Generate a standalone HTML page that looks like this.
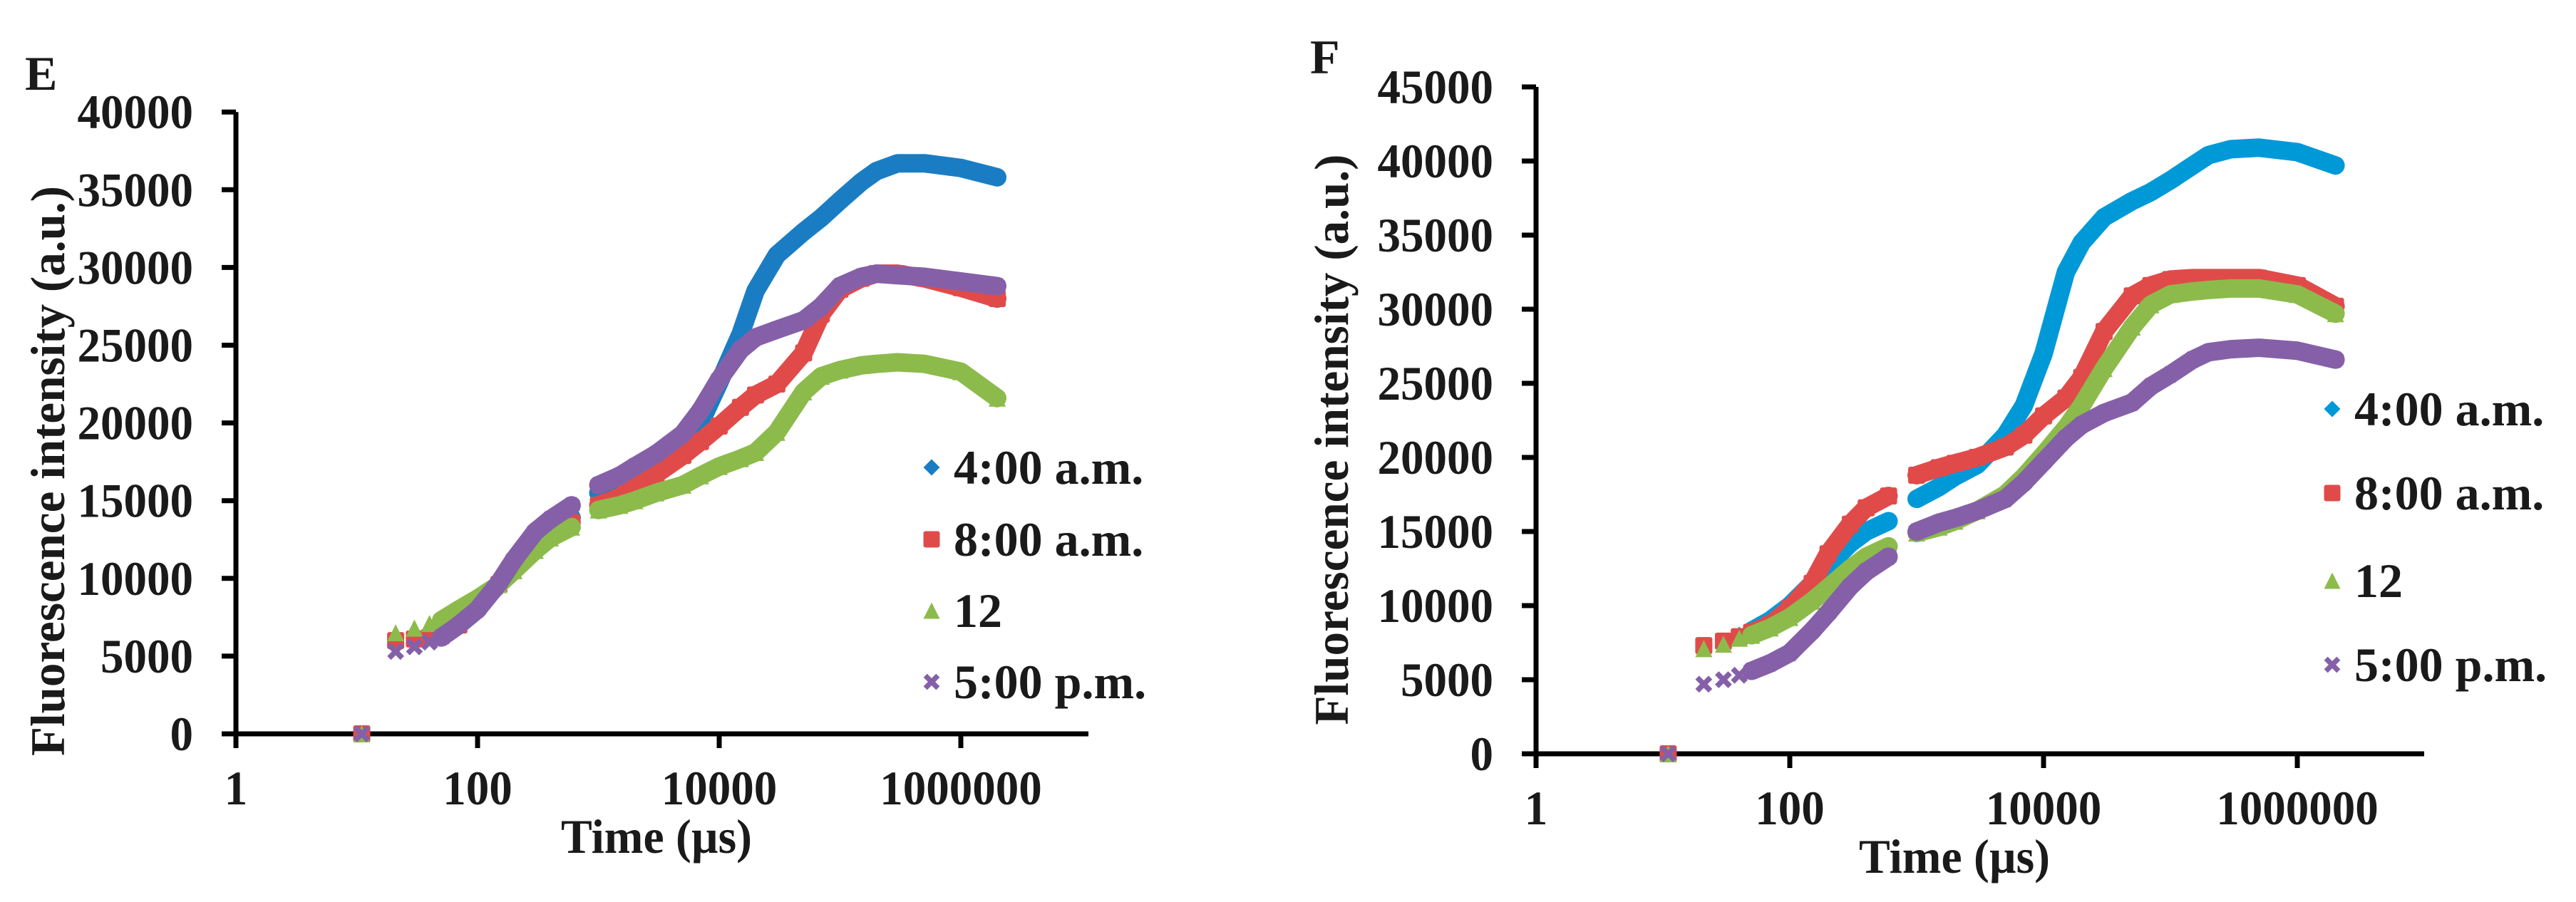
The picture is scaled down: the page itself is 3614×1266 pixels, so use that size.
<!DOCTYPE html>
<html><head><meta charset="utf-8"><style>
html,body{margin:0;padding:0;background:#fff;}
svg{display:block;}
text{font-family:"Liberation Serif","DejaVu Serif","Noto Serif CJK SC",serif;font-weight:bold;fill:#1a1a1a;}
</style></head>
<body>
<svg id="fig" width="3614" height="1266" viewBox="0 0 3614 1266" xmlns="http://www.w3.org/2000/svg"></svg>
<script>
const times = [11,21,30,40,50,70,100,150,200,300,400,600,1000,1500,2000,3000,5000,7000,10000,15000,20000,30000,50000,70000,100000,150000,200000,300000,500000,1000000,2000000];
const seriesNames = ["4:00 a.m.","8:00 a.m.","12","5:00 p.m."];
const xTickLabels = ["1","100","10000","1000000"];
const eYTicks = [0,5000,10000,15000,20000,25000,30000,35000,40000];
const fYTicks = [0,5000,10000,15000,20000,25000,30000,35000,40000,45000];
const eBlue   = [0,6000,6100,6200,6400,7000,8300,9600,10900,12500,13200,13900,15500,16000,16500,17300,18500,20000,22600,25700,28500,30800,32300,33200,34300,35500,36200,36700,36700,36400,35800];
const eRed    = [0,6000,6100,6200,6300,7000,8300,9600,10700,12200,13000,13600,14700,15200,16000,16700,17900,18800,19800,21000,21800,22500,24500,27000,28600,29300,29600,29600,29300,28700,28000];
const eGreen  = [0,6500,6800,7100,7300,8000,8700,9600,10500,11800,12600,13300,14400,14700,15000,15500,16000,16600,17200,17700,18100,19400,22000,23000,23400,23700,23800,23900,23800,23300,21600];
const ePurple = [0,5300,5600,5900,6200,7000,8000,9700,11200,13000,13800,14700,16000,16600,17200,18000,19300,20800,22800,24700,25500,26000,26600,27500,28800,29400,29600,29500,29400,29100,28800];
const fBlue   = [0,7200,7600,8000,8300,9000,10000,11500,12700,14200,15000,15700,17200,18000,18700,19500,21500,23500,27000,32500,34500,36200,37300,37900,38700,39700,40400,40800,40900,40600,39700];
const fRed    = [0,7300,7600,7900,8200,8700,9800,11500,13500,15500,16600,17400,18800,19300,19600,20000,20700,21500,22800,24000,25400,28500,30900,31600,32000,32100,32100,32100,32100,31600,30200];
const fGreen  = [0,7100,7400,7800,8000,8500,9200,10300,11200,12500,13300,14000,14900,15300,15700,16400,17500,18700,20200,22000,23500,26000,28800,30300,31000,31200,31300,31400,31400,31000,29700];
const fPurple = [0,4700,5000,5300,5600,6100,6800,8300,9500,11300,12300,13300,15000,15600,15900,16400,17200,18300,19700,21300,22200,23000,23700,24800,25600,26600,27100,27300,27400,27200,26600];
const breaks = [15, 25, 35, 45, 800];

const NS = "http://www.w3.org/2000/svg";
const svg = document.getElementById("fig");
function mk(tag, attrs, parent){ const e=document.createElementNS(NS,tag); for(const k in attrs) e.setAttribute(k,attrs[k]); (parent||svg).appendChild(e); return e; }
function txt(s, attrs, parent){ attrs["font-family"]="Liberation Serif, DejaVu Serif, serif"; attrs["font-weight"]="bold"; const e=mk("text",attrs,parent); e.textContent=s; return e; }

function marker(g, kind, x, y, color, s){
  let e;
  if(kind==="diamond") e=mk("polygon",{points:`${x},${y-s/2} ${x+s/2},${y} ${x},${y+s/2} ${x-s/2},${y}`,fill:color},g);
  else if(kind==="square") e=mk("rect",{x:x-s/2,y:y-s/2,width:s,height:s,rx:3,fill:color},g);
  else if(kind==="triangle") e=mk("polygon",{points:`${x},${y-s/2} ${x+s/2},${y+s/2} ${x-s/2},${y+s/2}`,fill:color},g);
  else { e=mk("path",{d:`M${x-s/2.6},${y-s/2.6}L${x+s/2.6},${y+s/2.6}M${x+s/2.6},${y-s/2.6}L${x-s/2.6},${y+s/2.6}`,stroke:color,"stroke-width":s/3.2,fill:"none"},g); }
  return e;
}

function chart(cfg){
  const g = mk("g",{});
  
  
  const X = t => cfg.x0 + cfg.dec*Math.log10(t);
  const Y = v => cfg.y0 - v/5000*cfg.per5k;
  const yTop = Y(cfg.yTicks[cfg.yTicks.length-1]);
  const pl = txt(cfg.letter,{x:cfg.letterX,y:cfg.letterY,"font-size":68},g);
  
  
  const ya = mk("line",{x1:cfg.x0,y1:yTop,x2:cfg.x0,y2:cfg.y0+3,stroke:"#000","stroke-width":7},g);
  
  
  const xa = mk("line",{x1:cfg.x0-20,y1:cfg.y0,x2:cfg.xEnd,y2:cfg.y0,stroke:"#000","stroke-width":7},g);
  
  
  cfg.yTicks.forEach(v=>{
    const y=Y(v);
    const tk = mk("line",{x1:cfg.x0-20,y1:y,x2:cfg.x0,y2:y,stroke:"#000","stroke-width":7},g);
    
    
    const s=String(v);
    const t = txt(s,{x:cfg.x0-60,y:y+23,"font-size":68,"text-anchor":"end",textLength:s.length*32.5,lengthAdjust:"spacingAndGlyphs"},g);
    
    
  });
  xTickLabels.forEach((s,i)=>{
    const x=X(Math.pow(100,i));
    const tk = mk("line",{x1:x,y1:cfg.y0,x2:x,y2:cfg.y0+20,stroke:"#000","stroke-width":7},g);
    
    
    const t = txt(s,{x:x,y:cfg.y0+99,"font-size":68,"text-anchor":"middle",textLength:s.length*32.5,lengthAdjust:"spacingAndGlyphs"},g);
    
    
  });
  const xt = txt("Time (µs)",{x:cfg.xTitleX,y:cfg.y0+167,"font-size":68,"text-anchor":"middle",textLength:268,lengthAdjust:"spacingAndGlyphs"},g);
  
  
  const yt = txt("Fluorescence intensity (a.u.)",{x:0,y:0,"font-size":68,"text-anchor":"middle",textLength:cfg.yTitleLen,lengthAdjust:"spacingAndGlyphs",transform:`translate(${cfg.yTitleX},${cfg.yTitleY}) rotate(-90)`},g);
  
  
  cfg.series.forEach((sr,si)=>{
    const sg = mk("g",{},g);
    
    
    const segs=[[]];
    times.forEach((t,i)=>{
      if(i>0 && breaks.some(b=>times[i-1]<b && t>b)) segs.push([]);
      segs[segs.length-1].push([X(t),Y(sr.vals[i])]);
    });
    segs.forEach(seg=>{
      if(seg.length>1){
        const pl = mk("polyline",{points:seg.map(p=>p.join(",")).join(" "),fill:"none",stroke:sr.color,"stroke-width":26,"stroke-linejoin":"round","stroke-linecap":"round"},sg);
        
        
      }
    });
    times.forEach((t,i)=>{
      const m = marker(sg, sr.kind, X(t), Y(sr.vals[i]), sr.color, 24);
      
      
    });
    const lg = mk("g",{},g);
    
    
    const by = cfg.legY[si];
    marker(lg, sr.kind, cfg.legMX, by-23, sr.color, 23);
    txt(seriesNames[si],{x:cfg.legTX,y:by,"font-size":68},lg);
  });
}

chart({name:"chart-e",letter:"E",letterX:35,letterY:126,x0:331,y0:1030,dec:169.5,per5k:109.1,xEnd:1527,
  yTicks:eYTicks,xTitleX:921,yTitleX:90,yTitleY:661,yTitleLen:800,
  legMX:1307,legTX:1338,legY:[679,780,880,980],
  series:[{key:"4am",vals:eBlue,color:"#1a7dc4",kind:"diamond"},
          {key:"8am",vals:eRed,color:"#e04b4a",kind:"square"},
          {key:"12",vals:eGreen,color:"#8cbb4c",kind:"triangle"},
          {key:"5pm",vals:ePurple,color:"#8560a8",kind:"x"}]});
chart({name:"chart-f",letter:"F",letterX:1838,letterY:103,x0:2155,y0:1058,dec:178,per5k:104,xEnd:3401,
  yTicks:fYTicks,xTitleX:2742,yTitleX:1891,yTitleY:617,yTitleLen:801,
  legMX:3272,legTX:3303,legY:[597,715,838,956],
  series:[{key:"4am",vals:fBlue,color:"#0099d8",kind:"diamond"},
          {key:"8am",vals:fRed,color:"#e04b4a",kind:"square"},
          {key:"12",vals:fGreen,color:"#8cbb4c",kind:"triangle"},
          {key:"5pm",vals:fPurple,color:"#8560a8",kind:"x"}]});
</script>
</body></html>
